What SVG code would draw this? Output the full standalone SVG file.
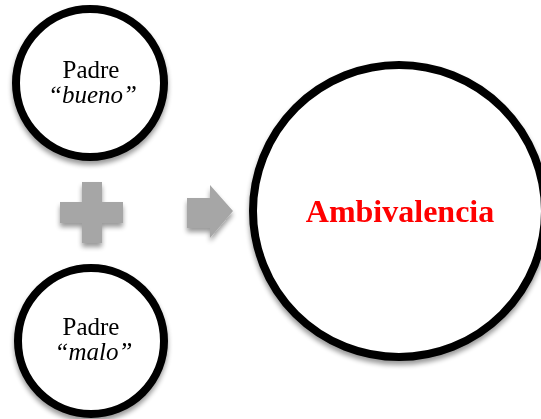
<svg xmlns="http://www.w3.org/2000/svg" width="541" height="419" viewBox="0 0 541 419">
  <defs>
    <filter id="shadow" x="-20%" y="-20%" width="140%" height="150%">
      <feGaussianBlur in="SourceAlpha" stdDeviation="2.5"/>
      <feOffset dx="0" dy="4" result="b"/>
      <feComponentTransfer><feFuncA type="linear" slope="0.4"/></feComponentTransfer>
      <feMerge><feMergeNode/><feMergeNode in="SourceGraphic"/></feMerge>
    </filter>
  </defs>
  <style>
    .ring { fill: #ffffff; stroke: #000000; stroke-width: 8; }
    .label { font-family: "Liberation Serif", "Times New Roman", serif; font-size: 25px; fill: #000000; text-anchor: middle; }
    .it { font-style: italic; }
    .main { font-family: "Liberation Serif", "Times New Roman", serif; font-size: 32px; font-weight: bold; fill: #ff0000; text-anchor: middle; }
    .op { fill: #a6a6a6; }
  </style>
  <rect width="541" height="419" fill="#ffffff"/>

  <g id="padre-bueno" filter="url(#shadow)">
    <circle class="ring" cx="90" cy="83" r="74"/>
    <text class="label" x="91" y="78">Padre</text>
    <text class="label it" x="92.5" y="103">“bueno”</text>
  </g>

  <g id="padre-malo" filter="url(#shadow)">
    <circle class="ring" cx="91" cy="341" r="73"/>
    <text class="label" x="91" y="335">Padre</text>
    <text class="label it" x="93.5" y="360">“malo”</text>
  </g>

  <g id="ambivalencia" filter="url(#shadow)">
    <circle class="ring" cx="399" cy="211" r="146"/>
    <text class="main" x="400" y="222">Ambivalencia</text>
  </g>

  <g id="connectors" filter="url(#shadow)">
    <path class="op" d="M82,182 H102 V202 H123 V223 H102 V243 H82 V223 H60 V202 H82 Z"/>
    <path class="op" d="M187,198 H210 V185 L233,211 L210,238 V228 H187 Z"/>
  </g>
</svg>
